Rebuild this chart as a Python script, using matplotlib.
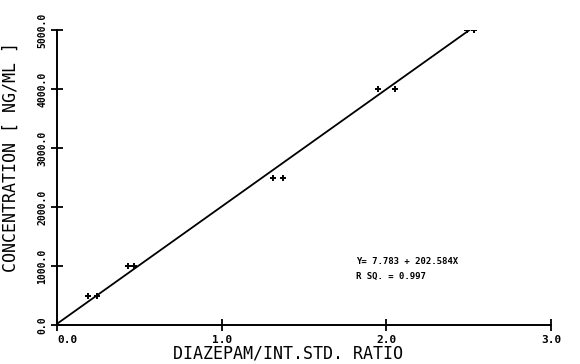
import numpy as np
import matplotlib.pyplot as plt

# valeurs (points en double, ratio / concentration)
ratio = [0.19, 0.24, 0.43, 0.47, 1.31, 1.37, 1.95, 2.05, 2.49, 2.53]
conc = [500, 500, 1000, 1000, 2500, 2500, 4000, 4000, 5000, 5000]

# droite de regression tracee
fit_x = [0.0, 2.52]
fit_y = [20, 5030]

xticks = [0, 1, 2, 3]
xlabels = ["0.0", "1.0", "2.0", "3.0"]
yticks = [0, 1000, 2000, 3000, 4000, 5000]
ylabels = ["0.0", "1000.0", "2000.0", "3000.0", "4000.0", "5000.0"]

plt.rcParams['font.family'] = ['DejaVu Sans Mono', 'DejaVu Sans']

fig = plt.figure(figsize=(5.8, 3.64), dpi=100)
ax = fig.add_axes([57/580, 1-325/364, 494/580, 295/364])

ax.plot(fit_x, fit_y, color='black', lw=1.3)
ax.plot(ratio, conc, ls='none', marker='+', ms=5, mew=1.4, color='black')

ax.set_xlim(0, 3)
ax.set_ylim(0, 5000)
for s in ['top', 'right']:
    ax.spines[s].set_visible(False)
for s in ['left', 'bottom']:
    ax.spines[s].set_linewidth(1.4)

ax.set_xticks(xticks)
ax.set_xticklabels(xlabels, fontsize=8, fontweight='bold')
ax.get_xticklabels()[0].set_horizontalalignment('left')
ax.set_yticks(yticks)
ax.set_yticklabels(ylabels, fontsize=7, fontweight='bold', rotation=90, va='center')
ax.tick_params(direction='inout', length=8, width=1.3, pad=3)

ax.set_xlabel("DIAZEPAM/INT.STD. RATIO", fontsize=12)
ax.xaxis.set_label_coords(0.468, -0.065)
ax.set_ylabel("CONCENTRATION [ NG/ML ]", fontsize=12)
ax.yaxis.set_label_coords(-0.075, 0.57)

ax.text(1.815, 1068, "Y= 7.783 + 202.584X", fontsize=6.5, fontweight='bold', va='center')
ax.text(1.815, 830, "R SQ. = 0.997", fontsize=6.5, fontweight='bold', va='center')

plt.savefig("out.png", dpi=100)
